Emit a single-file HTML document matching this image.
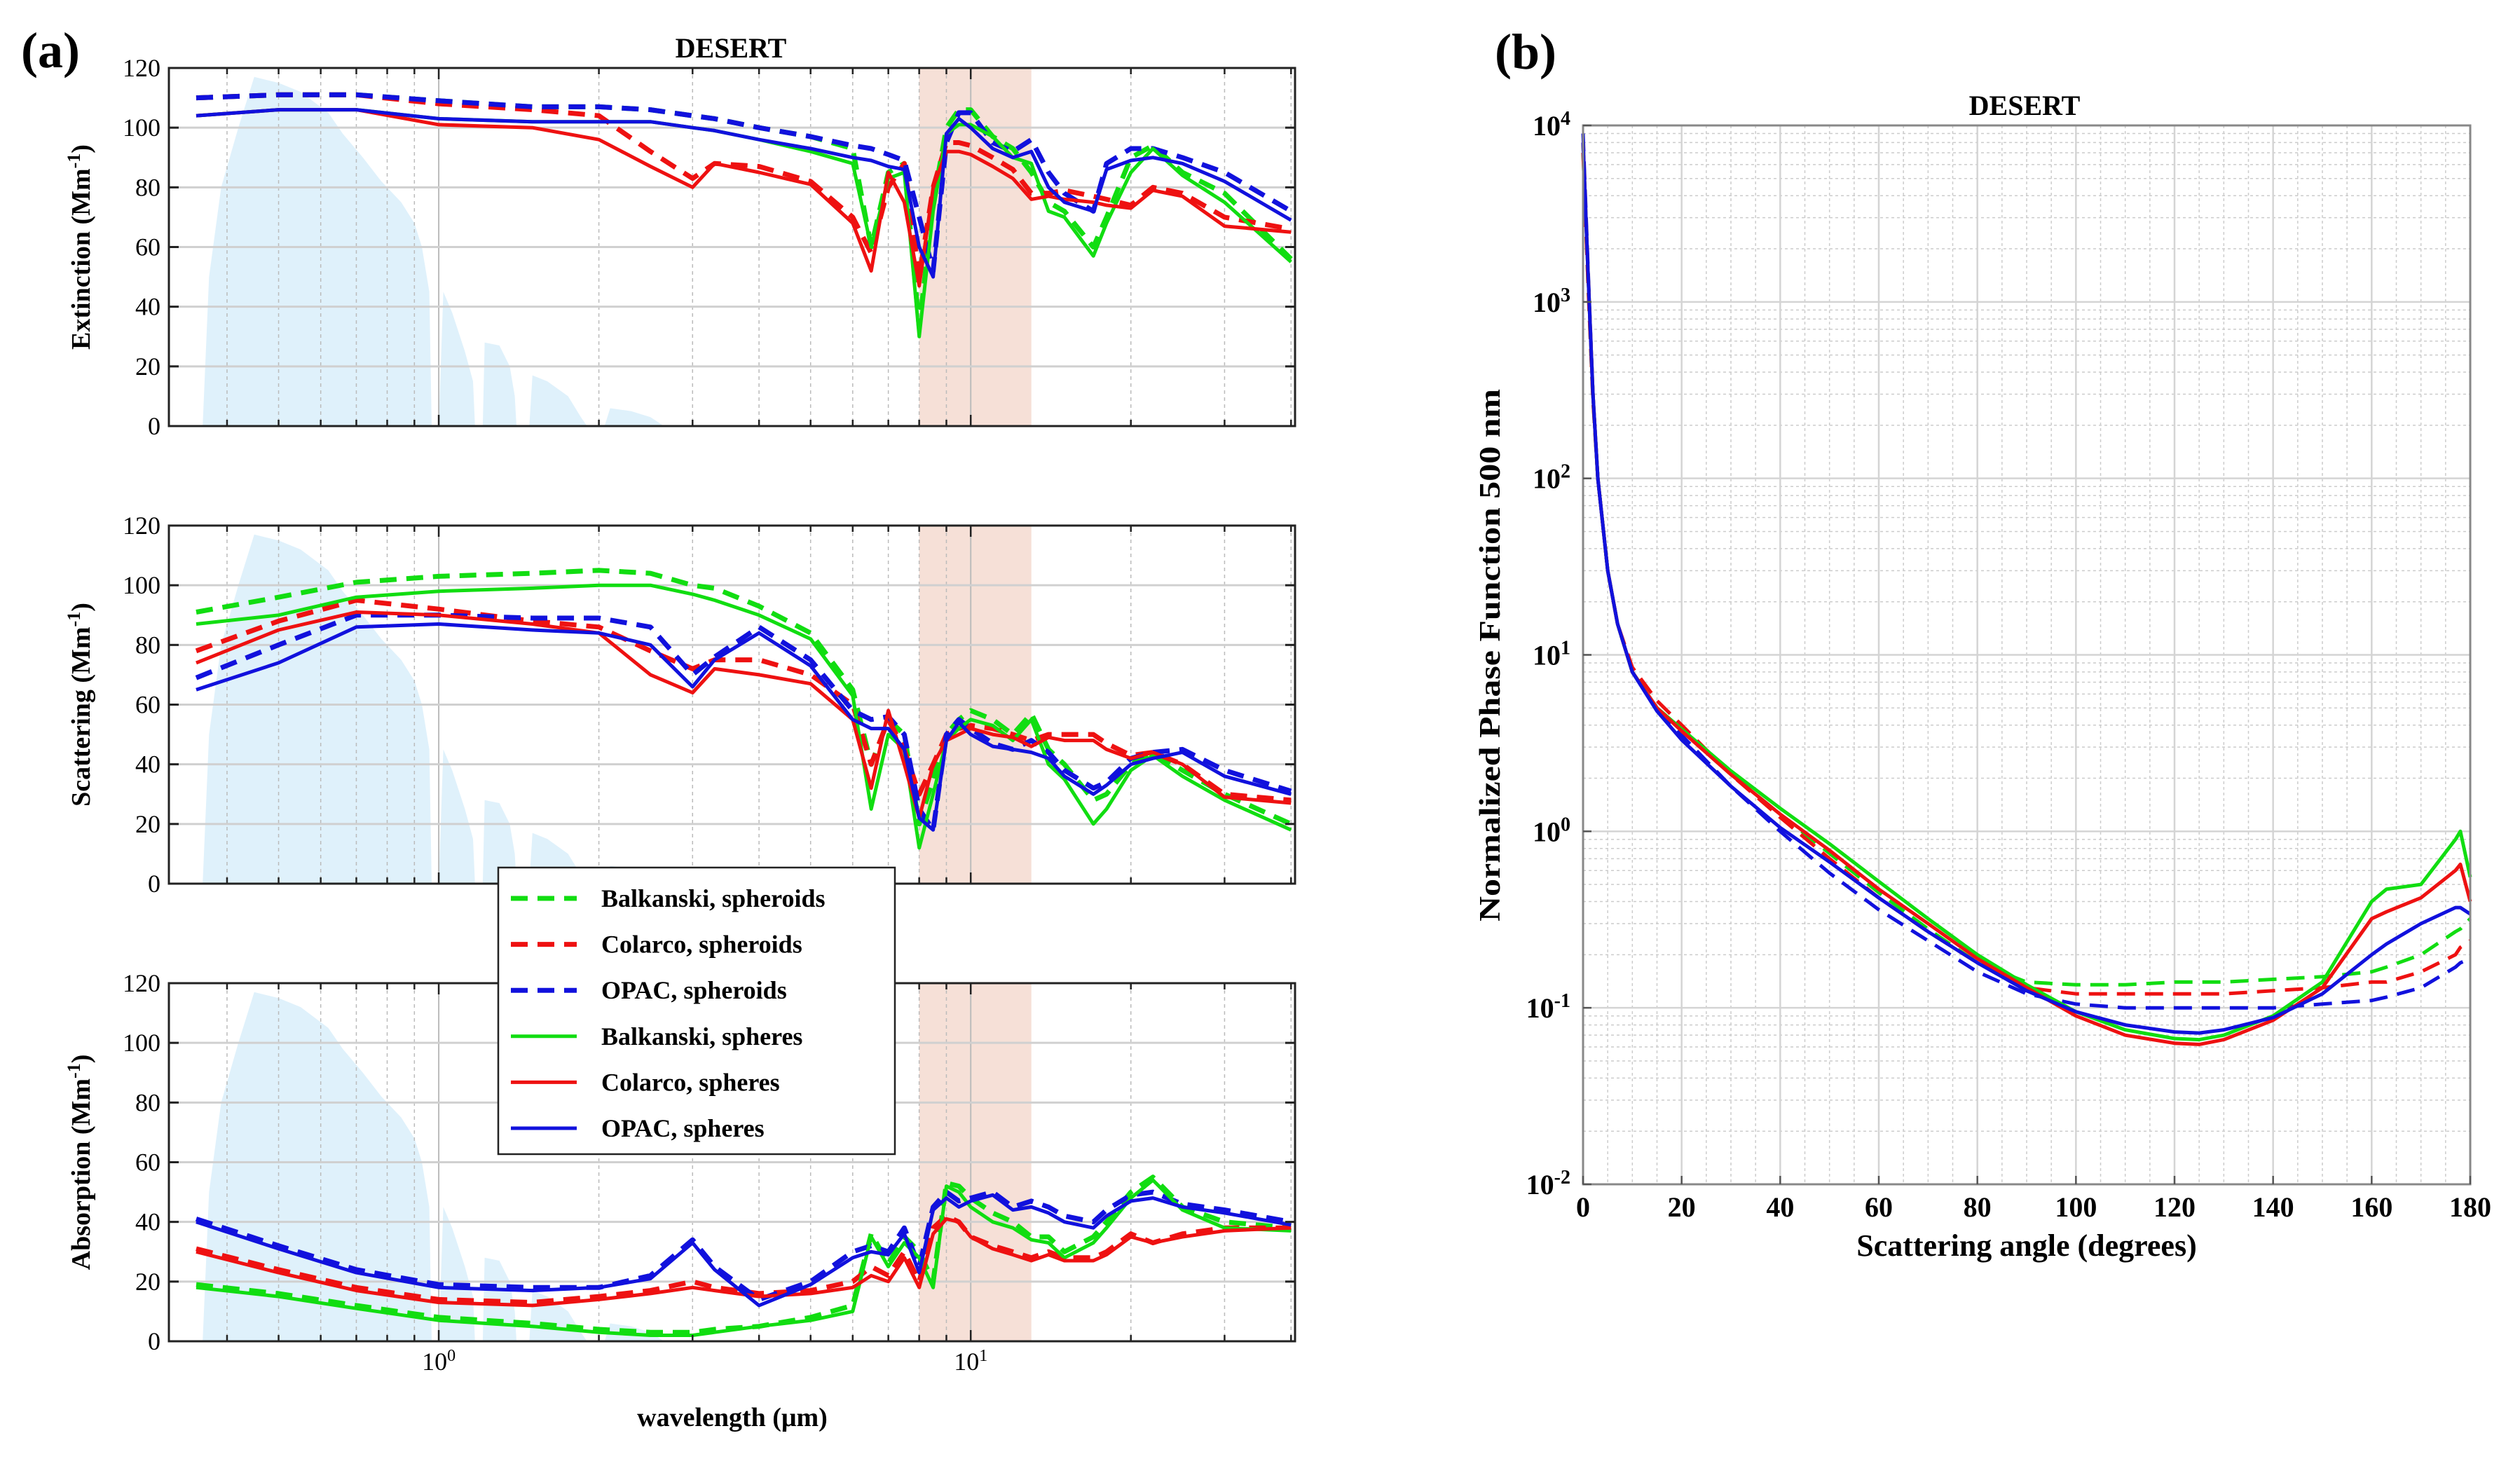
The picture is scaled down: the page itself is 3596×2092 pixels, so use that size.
<!DOCTYPE html>
<html><head><meta charset="utf-8"><style>
html,body{margin:0;padding:0;background:#fff;}
svg{display:block;font-family:"Liberation Serif",serif;}
</style></head><body>
<svg id="fig" width="3596" height="2092" viewBox="0 0 3596 2092" xmlns="http://www.w3.org/2000/svg">
<rect width="3596" height="2092" fill="#fff"/>
<g id="A"></g>
<g id="B"></g>
</svg>
<script>
// ---------- Panel (a) data ----------
const wavelengths=[0.35,0.5,0.7,1,1.5,2,2.5,3,3.3,4,5,6,6.5,7,7.5,8,8.5,9,9.5,10,11,12,13,14,15,17,18,20,22,25,30,40];
const extBalkD=[110,111,111,109,107,107,106,104,103,100,97,93,60,85,88,33,75,100,106,106,97,93,85,75,72,60,70,90,94,85,78,56];
const extColD=[110,111,111,108,106,104,92,83,88,87,82,70,58,80,88,50,80,95,95,94,90,86,78,78,79,77,76,74,80,78,70,66];
const extOpacD=[110,111,111,109,107,107,106,104,103,100,97,94,93,91,89,70,52,95,105,105,95,92,96,85,78,72,88,93,93,90,85,72];
const extBalkS=[104,106,106,103,102,102,102,100,99,96,92,88,60,83,85,30,72,98,101,101,97,90,88,72,70,57,68,85,93,84,75,55];
const extColS=[104,106,106,101,100,96,87,80,88,85,81,68,52,85,75,47,80,92,92,91,87,83,76,77,76,75,74,73,79,77,67,65];
const extOpacS=[104,106,106,103,102,102,102,100,99,96,93,90,89,87,86,60,50,98,103,100,93,90,92,80,75,72,86,89,90,88,82,69];

const scaBalkD=[91,96,101,103,104,105,104,100,99,93,84,65,40,55,50,20,35,50,55,58,55,50,57,45,40,28,30,40,44,38,30,20];
const scaColD=[78,88,95,92,88,86,78,72,75,75,70,60,40,55,45,30,40,50,52,53,52,50,48,50,50,50,47,43,44,40,30,28];
const scaOpacD=[69,80,90,90,89,89,86,70,76,86,75,58,55,56,50,25,18,50,55,52,47,45,48,44,38,32,34,42,44,45,38,31];
const scaBalkS=[87,90,96,98,99,100,100,97,95,90,82,63,25,50,45,12,30,48,52,55,53,48,55,40,35,20,25,38,43,36,28,18];
const scaColS=[74,85,91,90,87,84,70,64,72,70,67,55,32,58,40,22,40,48,50,52,50,49,46,49,48,48,45,42,44,40,29,27];
const scaOpacS=[65,74,86,87,85,84,80,66,75,84,73,55,52,52,45,22,18,48,54,50,46,45,44,42,36,30,33,40,42,44,36,30];

const absBalkD=[19,16,12,8,6,4,3,3,4,5,8,12,36,26,35,30,20,53,52,48,43,40,35,35,30,35,40,50,55,45,40,38];
const absColD=[31,24,18,14,13,15,17,20,18,16,17,20,25,22,30,20,38,42,40,35,32,30,28,30,28,28,30,36,33,36,38,38];
const absOpacD=[41,32,24,19,18,18,22,34,25,14,20,30,32,30,38,25,45,50,47,48,50,45,47,45,42,40,44,49,50,46,44,40];
const absBalkS=[18,15,11,7,5,3,2,2,3,5,7,10,35,25,33,28,18,52,50,45,40,38,34,33,28,33,38,48,54,44,38,37];
const absColS=[30,23,17,13,12,14,16,18,17,15,16,18,22,20,28,18,36,41,40,35,31,29,27,29,27,27,29,35,33,35,37,38];
const absOpacS=[40,31,23,18,17,18,21,33,24,12,19,28,30,29,36,23,44,48,45,47,49,44,45,43,40,38,42,47,48,45,43,39];

const solarW=[0.36,0.37,0.39,0.42,0.45,0.5,0.55,0.62,0.66,0.72,0.78,0.85,0.9,0.93,0.96,0.97,1.0,1.02,1.06,1.12,1.16,1.17,1.21,1.22,1.3,1.36,1.39,1.4,1.48,1.5,1.6,1.75,1.85,1.9,2.05,2.1,2.3,2.5,2.6,2.65];
const solarV=[0,50,80,100,117,115,112,105,98,90,82,75,68,60,45,0,0,45,38,25,15,0,0,28,27,20,10,0,0,17,15,10,3,0,0,6,5,3,1,0];
const windowBand=[8,13];
const yTicksA=[0,20,40,60,80,100,120];

// ---------- Panel (b) data ----------
const angles=[0,1,2,3,5,7,10,15,20,30,40,50,60,70,80,90,100,110,120,125,130,140,150,160,163,170,177,178,180];
const pfBalkS=[8000,1500,300,100,30,15,8,5,3.8,2.2,1.35,0.85,0.52,0.32,0.2,0.135,0.095,0.075,0.067,0.066,0.07,0.09,0.14,0.4,0.47,0.5,0.9,1.0,0.55];
const pfColS=[8000,1500,300,100,30,15,8,5,3.7,2.1,1.25,0.78,0.47,0.3,0.19,0.13,0.09,0.07,0.063,0.062,0.066,0.085,0.13,0.32,0.35,0.42,0.6,0.65,0.4];
const pfOpacS=[8000,1500,300,100,30,15,8,4.8,3.3,1.8,1.05,0.67,0.42,0.27,0.18,0.125,0.095,0.08,0.073,0.072,0.075,0.088,0.12,0.2,0.23,0.3,0.37,0.37,0.34];
const pfBalkD=[7000,1300,280,100,30,15,8,5,3.8,2.1,1.25,0.75,0.45,0.28,0.18,0.14,0.135,0.135,0.14,0.14,0.14,0.145,0.15,0.16,0.17,0.2,0.27,0.28,0.32];
const pfColD=[7000,1300,280,100,30,15,8.5,5.5,4,2.1,1.2,0.7,0.42,0.27,0.18,0.13,0.12,0.12,0.12,0.12,0.12,0.125,0.13,0.14,0.14,0.16,0.2,0.22,0.24];
const pfOpacD=[9000,1600,300,100,30,15,8,5,3.5,1.8,1.0,0.58,0.36,0.24,0.16,0.12,0.105,0.1,0.1,0.1,0.1,0.1,0.105,0.11,0.115,0.13,0.17,0.18,0.19];
const xTicksB=[0,20,40,60,80,100,120,140,160,180];
const yExpB=[-2,-1,0,1,2,3,4];

const NS="http://www.w3.org/2000/svg";
function mk(parent,tag,attrs,text){const e=document.createElementNS(NS,tag);for(const k in attrs)e.setAttribute(k,attrs[k]);if(text!==undefined)e.textContent=text;parent.appendChild(e);return e;}
const G="#11dd11",R="#ee1111",B="#1111dd";

// ---- Panel (a) axes ----
const AL=241,AR=1848,AH=511,WMIN=0.311,WMAX=40.7;
const tops=[97,750,1403];
function xa(w){return AL+(Math.log10(w)-Math.log10(WMIN))/(Math.log10(WMAX)-Math.log10(WMIN))*(AR-AL);}
function ya(v,p){return tops[p]+AH-v/120*AH;}
const A=document.getElementById('A');
const titlesA=["Extinction","Scattering","Absorption"];
const names=["extinction","scattering","absorption"];
const dataA=[
 [extBalkD,extColD,extOpacD,extBalkS,extColS,extOpacS],
 [scaBalkD,scaColD,scaOpacD,scaBalkS,scaColS,scaOpacS],
 [absBalkD,absColD,absOpacD,absBalkS,absColS,absOpacS]];
const seriesStyle=[[G,true,"balkanski-spheroids"],[R,true,"colarco-spheroids"],[B,true,"opac-spheroids"],[G,false,"balkanski-spheres"],[R,false,"colarco-spheres"],[B,false,"opac-spheres"]];
const minorW=[];
[0.1,1,10].forEach(d=>{for(let k=1;k<=9;k++){const w=k*d;if(w>WMIN&&w<WMAX)minorW.push(w);}});
for(let p=0;p<3;p++){
  const g=mk(A,'g',{});
  
  
  const t=tops[p];
  let d="M"+xa(solarW[0])+","+ya(0,p);
  solarW.forEach((w,i)=>{d+=" L"+xa(w).toFixed(1)+","+ya(solarV[i],p).toFixed(1);});
  const sp=mk(g,'path',{d:d+"Z",fill:"#dff1fb"});
  
  
  const wb=mk(g,'rect',{x:xa(windowBand[0]),y:t,width:xa(windowBand[1])-xa(windowBand[0]),height:AH,fill:"#f5ddd3",opacity:0.9});
  
  
  minorW.forEach(w=>{const dec=(w===1||w===10);mk(g,'line',{x1:xa(w),x2:xa(w),y1:t,y2:t+AH,stroke:"#bbb","stroke-width":dec?2:1.5,"stroke-dasharray":dec?"":"5,5"});});
  yTicksA.forEach(v=>{if(v>0&&v<120)mk(g,'line',{x1:AL,x2:AR,y1:ya(v,p),y2:ya(v,p),stroke:"#d0d0d0","stroke-width":3});});
  seriesStyle.forEach((s,si)=>{
    const pts=wavelengths.map((w,i)=>xa(w).toFixed(1)+","+ya(dataA[p][si][i],p).toFixed(1)).join(" ");
    const pl=mk(g,'polyline',{points:pts,fill:"none",stroke:s[0],"stroke-width":s[1]?7:5,"stroke-dasharray":s[1]?"24,14":"","stroke-linejoin":"round"});
    
    
  });
  mk(g,'rect',{x:AL,y:t,width:AR-AL,height:AH,fill:"none",stroke:"#222","stroke-width":3});
  minorW.forEach(w=>{const L=(w===1||w===10)?16:9;mk(g,'line',{x1:xa(w),x2:xa(w),y1:t+AH,y2:t+AH-L,stroke:"#222","stroke-width":2.5});mk(g,'line',{x1:xa(w),x2:xa(w),y1:t,y2:t+L,stroke:"#222","stroke-width":2.5});});
  yTicksA.forEach(v=>{
    mk(g,'line',{x1:AL,x2:AL+14,y1:ya(v,p),y2:ya(v,p),stroke:"#222","stroke-width":3});
    mk(g,'line',{x1:AR,x2:AR-14,y1:ya(v,p),y2:ya(v,p),stroke:"#222","stroke-width":3});
    const tl=mk(g,'text',{x:AL-12,y:ya(v,p)+12,"text-anchor":"end","font-size":36},String(v));
    
    
  });
  const yl=mk(g,'text',{transform:"translate(128,"+(t+AH/2)+") rotate(-90)","text-anchor":"middle","font-size":38,"font-weight":"bold"});
  
  
  mk(yl,'tspan',{},titlesA[p]+" (Mm");
  mk(yl,'tspan',{"baseline-shift":"super","font-size":26},"-1");
  mk(yl,'tspan',{},")");
}
[[1,"0"],[10,"1"]].forEach(([w,e])=>{
  const tx=mk(A,'text',{x:xa(w),y:1955,"text-anchor":"middle","font-size":36});
  
  
  mk(tx,'tspan',{},"10");
  mk(tx,'tspan',{"baseline-shift":"super","font-size":24},e);
});
const xlA=mk(A,'text',{x:1045,y:2035,"text-anchor":"middle","font-size":38,"font-weight":"bold"},"wavelength (\u03bcm)");


const ttA=mk(A,'text',{x:1043,y:82,"text-anchor":"middle","font-size":40,"font-weight":"bold"},"DESERT");


const la=mk(A,'text',{x:30,y:96,"font-size":72,"font-weight":"bold"},"(a)");


const lg=mk(A,'g',{});


mk(lg,'rect',{x:711,y:1238,width:566,height:409,fill:"#fff",stroke:"#222","stroke-width":2.5});
const legLabels=["Balkanski, spheroids","Colarco, spheroids","OPAC, spheroids","Balkanski, spheres","Colarco, spheres","OPAC, spheres"];
seriesStyle.forEach((s,i)=>{
  const y=1282+i*65.6;
  const e=mk(lg,'g',{});
  
  
  mk(e,'line',{x1:729,x2:823,y1:y,y2:y,stroke:s[0],"stroke-width":s[1]?7:5,"stroke-dasharray":s[1]?"24,14":""});
  mk(e,'text',{x:858,y:y+12,"font-size":36,"font-weight":"bold"},legLabels[i]);
});

// ---- Panel (b) ----
const BL=2259,BR=3525,BT=179,BBt=1690;
function xb(a){return BL+a/180*(BR-BL);}
function yb(v){return BBt-(Math.log10(v)+2)/6*(BBt-BT);}
const Bg=document.getElementById('B');
for(let a=5;a<180;a+=5){if(a%20)mk(Bg,'line',{x1:xb(a),x2:xb(a),y1:BT,y2:BBt,stroke:"#ccc","stroke-width":1.5,"stroke-dasharray":"4,4"});}
for(let e=-2;e<4;e++){for(let k=2;k<=9;k++){const y=yb(k*Math.pow(10,e));mk(Bg,'line',{x1:BL,x2:BR,y1:y,y2:y,stroke:"#ccc","stroke-width":1.5,"stroke-dasharray":"4,4"});}}
xTicksB.forEach(a=>{mk(Bg,'line',{x1:xb(a),x2:xb(a),y1:BT,y2:BBt,stroke:"#d4d4d4","stroke-width":2.5});});
yExpB.forEach(e=>{mk(Bg,'line',{x1:BL,x2:BR,y1:yb(Math.pow(10,e)),y2:yb(Math.pow(10,e)),stroke:"#d4d4d4","stroke-width":2.5});});
const pfData=[pfBalkD,pfColD,pfOpacD,pfBalkS,pfColS,pfOpacS];
seriesStyle.forEach((s,si)=>{
  const pts=angles.map((a,i)=>xb(a).toFixed(1)+","+yb(pfData[si][i]).toFixed(1)).join(" ");
  const pl=mk(Bg,'polyline',{points:pts,fill:"none",stroke:s[0],"stroke-width":5,"stroke-dasharray":s[1]?"26,14":"","stroke-linejoin":"round"});
  
  
});
mk(Bg,'rect',{x:BL,y:BT,width:BR-BL,height:BBt-BT,fill:"none",stroke:"#888","stroke-width":3});
xTicksB.forEach(a=>{
  mk(Bg,'line',{x1:xb(a),x2:xb(a),y1:BBt,y2:BBt-12,stroke:"#555","stroke-width":2.5});
  const tl=mk(Bg,'text',{x:xb(a),y:1736,"text-anchor":"middle","font-size":40,"font-weight":"bold"},String(a));
  
  
});
yExpB.forEach(e=>{
  const y=yb(Math.pow(10,e));
  mk(Bg,'line',{x1:BL,x2:BL+12,y1:y,y2:y,stroke:"#555","stroke-width":2.5});
  const tl=mk(Bg,'text',{x:BL-18,y:y+14,"text-anchor":"end","font-size":40,"font-weight":"bold"});
  
  
  mk(tl,'tspan',{},"10");
  mk(tl,'tspan',{"baseline-shift":"super","font-size":28},String(e));
});
const xlB=mk(Bg,'text',{x:2892,y:1792,"text-anchor":"middle","font-size":44,"font-weight":"bold"},"Scattering angle (degrees)");


const ylB=mk(Bg,'text',{transform:"translate(2140,935) rotate(-90)","text-anchor":"middle","font-size":42,"font-weight":"bold","textLength":760,"lengthAdjust":"spacingAndGlyphs"},"Normalized Phase Function 500 nm");


const ttB=mk(Bg,'text',{x:2889,y:164,"text-anchor":"middle","font-size":40,"font-weight":"bold"},"DESERT");


const lb=mk(Bg,'text',{x:2133,y:98,"font-size":72,"font-weight":"bold"},"(b)");


</script>
</body></html>
